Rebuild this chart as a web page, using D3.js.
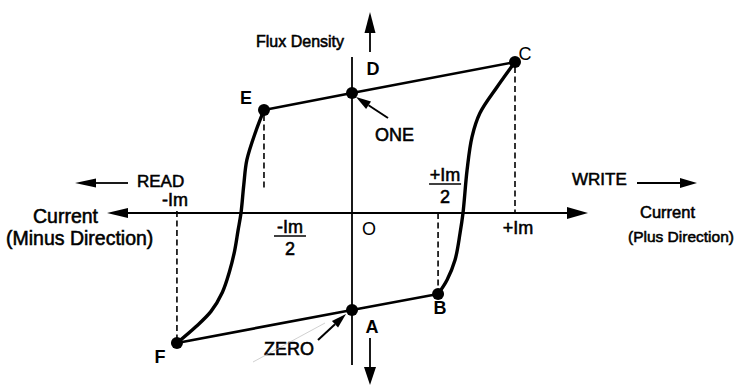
<!DOCTYPE html>
<html>
<head>
<meta charset="utf-8">
<script src="https://cdn.jsdelivr.net/npm/d3@7"></script>
<style>
  body { margin: 0; background: #fff; }
  text { font-family: "Liberation Sans", Arial, sans-serif; fill: #000; }
</style>
</head>
<body>
<div id="chart"></div>
<script>
// points of the loop: current in Im units, flux relative to remanence (D = 1)
const pointNames = ["C", "D", "E", "F", "A", "B"];
const pointCurrent = [1.0, 0.0, -0.54, -1.074, 0.0, 0.528];
const pointFlux = [1.258, 1.0, 0.858, -1.083, -0.808, -0.675];

// right branch C -> B (switching to zero)
const rightCurrent = [1.0, 0.89, 0.785, 0.736, 0.706, 0.681, 0.663, 0.632, 0.583, 0.528];
const rightFlux = [1.258, 1.05, 0.833, 0.633, 0.358, 0.0, -0.167, -0.392, -0.558, -0.675];

// left branch F -> E (switching to one)
const leftCurrent = [-1.074, -0.96, -0.865, -0.795, -0.752, -0.72, -0.699, -0.681, -0.664, -0.645, -0.588, -0.54];
const leftFlux = [-1.083, -0.95, -0.82, -0.66, -0.49, -0.315, -0.145, 0.0, 0.233, 0.442, 0.69, 0.858];

// tick labels on the current axis
const tickNames = ["-Im", "+Im", "-Im/2", "+Im/2"];
const tickValues = [-1.086, 1.0, -0.54, 0.528];

const width = 738, height = 387;

const svg = d3.select("#chart").append("svg")
    .attr("width", width)
    .attr("height", height);

const x = d3.scaleLinear().domain([-1, 1]).range([189, 515]);
const y = d3.scaleLinear().domain([-1, 1]).range([333, 93]);

const x0 = x(0), y0 = y(0);

// filled arrow head + shaft
function arrow(x1, y1, x2, y2, len, half, sw) {
    const a = Math.atan2(y2 - y1, x2 - x1);
    const bx = x2 - len * Math.cos(a), by = y2 - len * Math.sin(a);
    svg.append("line")
        .attr("x1", x1).attr("y1", y1).attr("x2", bx).attr("y2", by)
        .attr("stroke", "#000").attr("stroke-width", sw);
    const px = -Math.sin(a) * half, py = Math.cos(a) * half;
    svg.append("path")
        .attr("d", `M${x2},${y2}L${bx + px},${by + py}L${bx - px},${by - py}Z`)
        .attr("fill", "#000");
}

// current axis
arrow(x0, y0, 107, y0, 21, 5, 1.8);
arrow(x0, y0, 588, y0, 21, 6, 1.8);
// flux axis line
svg.append("line")
    .attr("x1", x0).attr("x2", x0).attr("y1", 57).attr("y2", 365)
    .attr("stroke", "#000").attr("stroke-width", 1.8);

// side arrows
arrow(x0 + 18, 52, x0 + 18, 12, 21, 5.5, 1.8);
arrow(x0 + 18, 338, x0 + 18, 385, 18, 6, 1.8);
arrow(637, 183, 697, 183, 17, 5, 1.8);
arrow(128, 183, 75, 183, 21, 4.5, 1.8);

// dashed drops
const dash = "6,3.5";
const drops = [
    [x(1), y(1.258) + 5, y0],
    [x(-0.54), y(0.858) + 5, 190],
    [x(-1.074), y0 - 2, y(-1.083) - 4],
    [x(0.528), y0, y(-0.675) - 4]
];
drops.forEach(d => {
    svg.append("line")
        .attr("x1", d[0]).attr("x2", d[0]).attr("y1", d[1]).attr("y2", d[2])
        .attr("stroke", "#000").attr("stroke-width", 1.6)
        .attr("stroke-dasharray", dash);
});

// straight lines E-D-C and F-A-B
const pt = i => [x(pointCurrent[i]), y(pointFlux[i])];
const straight = d3.line();
svg.append("path").attr("d", straight([pt(2), pt(1), pt(0)]))
    .attr("fill", "none").attr("stroke", "#000").attr("stroke-width", 2.6);
svg.append("path").attr("d", straight([pt(3), pt(4), pt(5)]))
    .attr("fill", "none").attr("stroke", "#000").attr("stroke-width", 2.6);

// curved branches
const curve = d3.line()
    .x(d => x(d[0])).y(d => y(d[1]))
    .curve(d3.curveCatmullRom.alpha(0.5));
svg.append("path").attr("d", curve(d3.zip(rightCurrent, rightFlux)))
    .attr("fill", "none").attr("stroke", "#000").attr("stroke-width", 3.4);
svg.append("path").attr("d", curve(d3.zip(leftCurrent, leftFlux)))
    .attr("fill", "none").attr("stroke", "#000").attr("stroke-width", 3.4);

// dots
svg.selectAll("circle.pt")
    .data(pointNames)
    .enter().append("circle")
    .attr("class", "pt")
    .attr("cx", (d, i) => x(pointCurrent[i]))
    .attr("cy", (d, i) => y(pointFlux[i]))
    .attr("r", 6)
    .attr("fill", "#000");

// point letters (offsets from the dot)
const letterOff = { C: [10, -8, 400], D: [21, -24, 700], E: [-18, -12, 700], F: [-17, 14, 700], A: [20, 17, 700], B: [2, 14, 700] };
svg.selectAll("text.pt")
    .data(pointNames)
    .enter().append("text")
    .attr("class", "pt")
    .attr("x", (d, i) => x(pointCurrent[i]) + letterOff[d][0])
    .attr("y", (d, i) => y(pointFlux[i]) + letterOff[d][1])
    .attr("dy", "0.35em")
    .attr("text-anchor", "middle")
    .attr("font-size", 18)
    .attr("font-weight", d => letterOff[d][2])
    .text(d => d);

// O at origin
svg.append("text").attr("x", x0 + 17).attr("y", y0 + 22)
    .attr("text-anchor", "middle").attr("font-size", 18).text("O");

// tick labels
function label(t, tx, ty, anchor, size, weight) {
    return svg.append("text").attr("x", tx).attr("y", ty)
        .attr("text-anchor", anchor || "middle")
        .attr("font-size", size || 18)
        .attr("font-weight", weight || 400)
        .attr("stroke", "#000").attr("stroke-width", 0.55)
        .text(t);
}
label(tickNames[0], x(tickValues[0]), 206);
label(tickNames[1], x(tickValues[1]) + 3, 234);
// fractions
function frac(t, cx, top) {
    const parts = t.split("/");
    label(parts[0], cx, top + 11);
    svg.append("line").attr("x1", cx - 16).attr("x2", cx + 16)
        .attr("y1", top + 14).attr("y2", top + 14)
        .attr("stroke", "#000").attr("stroke-width", 1.5);
    label(parts[1], cx, top + 33);
}
frac(tickNames[2], x(tickValues[2]) + 26, 222);
frac(tickNames[3], x(tickValues[3]) + 7, 170);

// axis words
label("Flux Density", 256, 47, "start", 16);
label("READ", 137, 187, "start", 17);
label("WRITE", 572, 185, "start", 17);
label("Current", 33, 223, "start", 19.5);
label("(Minus Direction)", 6, 245, "start", 19.5);
label("Current", 640, 218, "start", 16.5);
label("(Plus Direction)", 628, 242, "start", 15.5);

// ONE / ZERO pointers
label("ONE", 375, 141, "start", 18);
arrow(388, 118, 356, 97, 15, 4.5, 2);
label("ZERO", 264, 355, "start", 18);
arrow(318, 340, 346, 314, 15, 4.5, 2);
svg.append("line").attr("x1", 325).attr("y1", 323).attr("x2", 253).attr("y2", 362)
    .attr("stroke", "#bbb").attr("stroke-width", 0.7);
</script>
</body>
</html>
